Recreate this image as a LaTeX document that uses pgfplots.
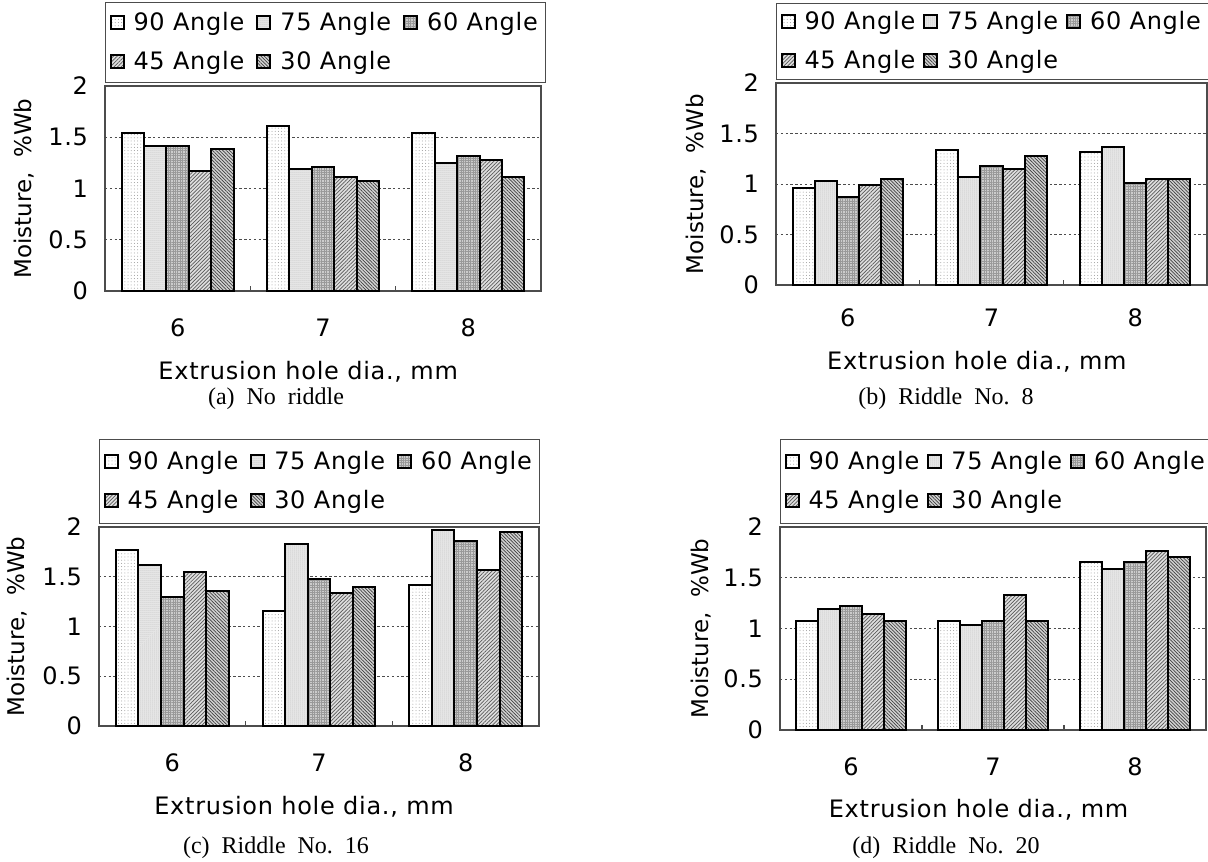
\documentclass[border=0pt]{standalone}
\usepackage{fontspec}
\setmainfont{Liberation Serif}
\newfontfamily\sff[LetterSpace=3]{DejaVu Sans}
\newfontfamily\sffn{DejaVu Sans}
\usepackage{pgfplots}
\pgfplotsset{compat=1.18}
\usetikzlibrary{patterns.meta}
\newcommand{\lab}{\sff\fontsize{12pt}{14pt}\selectfont}
\newcommand{\ylab}{\sffn\fontsize{11.5pt}{14pt}\selectfont}
\definecolor{axgray}{gray}{0.3}
\pgfplotsset{
  s90/.style={draw=black, line width=1pt, fill=white, postaction={pattern={Dots[distance=1.6pt,radius=0.25pt]}, pattern color=gray!80}},
  s75/.style={draw=black, line width=1pt, fill=gray!15, postaction={pattern={Dots[distance=1pt,radius=0.25pt]}, pattern color=gray!75}},
  s60/.style={draw=black, line width=1pt, fill=gray!40, postaction={pattern={Hatch[distance=1.2pt,line width=0.25pt]}, pattern color=gray!80}},
  s45/.style={draw=black, line width=1pt, fill=gray!25, postaction={pattern={Lines[angle=45,distance=1.3pt,line width=0.35pt]}, pattern color=gray!70!black}},
  s30/.style={draw=black, line width=1pt, fill=gray!35, postaction={pattern={Lines[angle=-45,distance=1.2pt,line width=0.35pt]}, pattern color=gray!50!black}},
  panel/.style={
    scale only axis, anchor=south west,
    ybar=0pt, bar width=0.154,
    xmin=0.5, xmax=3.5, ymin=0, ymax=2,
    xtick={1,2,3}, xticklabels={6,7,8},
    minor xtick={1.5,2.5},
    ytick={0,0.5,1,1.5,2}, yticklabels={0,0.5,1,1.5,2},
    major tick length=0pt, minor tick length=2.5pt,
    tick align=inside, xtick pos=bottom, ytick pos=left,
    ymajorgrids, major grid style={dash pattern=on 1.2pt off 1.2pt, axgray, line width=0.45pt},
    axis line style={axgray, line width=0.6pt},
    tick style={axgray, line width=0.6pt},
    tick label style={font=\lab},
    /pgf/number format/assume math mode=true,
    yticklabel style={xshift=-5pt},
    xlabel={Extrusion hole dia., mm},
    ylabel={Moisture,\ \ \%Wb},
    xlabel style={font=\lab},
    ylabel style={font=\ylab, at={(axis description cs:-0.186,0.5)}, anchor=center, rotate=0},
    legend columns=3,
    legend cell align=left,
    legend image code/.code={\draw[#1] (0pt,-3.25pt) rectangle (6.5pt,3.25pt);},
    legend style={at={(0,1)}, anchor=south west, yshift=1.5pt, draw=gray!60!black, line width=0.5pt,
      font=\lab, row sep=5pt, inner xsep=2pt, inner ysep=4pt,
      /tikz/every odd column/.append style={column sep=2.5pt},
      /tikz/every even column/.append style={column sep=4pt}},
  }
}
\begin{document}
\begin{tikzpicture}
\path[use as bounding box] (0,0) rectangle (604pt,-430.5pt);
% (a)
\begin{axis}[panel, at={(52.5pt,-145.5pt)}, width=218pt, height=102.5pt,
  xticklabel style={anchor=base, yshift=-22.75pt},
  xlabel style={at={(axis description cs:0.466,0)}, anchor=center, yshift=-40.5pt},
  legend style={inner ysep=3pt}]
\addplot[s90] coordinates {(1,1.545) (2,1.61) (3,1.545)};
\addplot[s75] coordinates {(1,1.41) (2,1.19) (3,1.25)};
\addplot[s60] coordinates {(1,1.41) (2,1.21) (3,1.32)};
\addplot[s45] coordinates {(1,1.17) (2,1.11) (3,1.28)};
\addplot[s30] coordinates {(1,1.39) (2,1.075) (3,1.11)};
\legend{90 Angle,75 Angle,60 Angle,45 Angle,30 Angle}
\end{axis}
% (b)
\begin{axis}[panel, at={(388pt,-142.5pt)}, width=215.5pt, height=101pt,
  xticklabel style={anchor=base, yshift=-20.75pt},
  xlabel style={at={(axis description cs:0.466,0)}, anchor=center, yshift=-38.5pt},
  legend style={inner ysep=2pt, /tikz/every even column/.append style={column sep=2pt}}]
\addplot[s90] coordinates {(1,0.96) (2,1.34) (3,1.32)};
\addplot[s75] coordinates {(1,1.03) (2,1.07) (3,1.37)};
\addplot[s60] coordinates {(1,0.875) (2,1.18) (3,1.01)};
\addplot[s45] coordinates {(1,0.99) (2,1.145) (3,1.05)};
\addplot[s30] coordinates {(1,1.05) (2,1.28) (3,1.05)};
\legend{90 Angle,75 Angle,60 Angle,45 Angle,30 Angle}
\end{axis}
% (c)
\begin{axis}[panel, at={(49.5pt,-363pt)}, width=220pt, height=99.5pt,
  xticklabel style={anchor=base, yshift=-22.75pt},
  xlabel style={at={(axis description cs:0.466,0)}, anchor=center, yshift=-40.5pt}]
\addplot[s90] coordinates {(1,1.765) (2,1.16) (3,1.42)};
\addplot[s75] coordinates {(1,1.62) (2,1.83) (3,1.97)};
\addplot[s60] coordinates {(1,1.30) (2,1.48) (3,1.855)};
\addplot[s45] coordinates {(1,1.545) (2,1.34) (3,1.565)};
\addplot[s30] coordinates {(1,1.357) (2,1.40) (3,1.95)};
\legend{90 Angle,75 Angle,60 Angle,45 Angle,30 Angle}
\end{axis}
% (d)
\begin{axis}[panel, at={(390pt,-365pt)}, width=213pt, height=101.5pt,
  xticklabel style={anchor=base, yshift=-22.75pt},
  xlabel style={at={(axis description cs:0.466,0)}, anchor=center, yshift=-40pt},
  legend style={/tikz/every even column/.append style={column sep=2pt}}]
\addplot[s90] coordinates {(1,1.075) (2,1.075) (3,1.66)};
\addplot[s75] coordinates {(1,1.19) (2,1.03) (3,1.59)};
\addplot[s60] coordinates {(1,1.22) (2,1.075) (3,1.66)};
\addplot[s45] coordinates {(1,1.145) (2,1.33) (3,1.76)};
\addplot[s30] coordinates {(1,1.075) (2,1.075) (3,1.70)};
\legend{90 Angle,75 Angle,60 Angle,45 Angle,30 Angle}
\end{axis}
\node[font=\fontsize{12pt}{14pt}\selectfont] at (138pt,-199.5pt) {(a)\ \ No\ \ riddle};
\node[font=\fontsize{12pt}{14pt}\selectfont] at (473pt,-199.5pt) {(b)\ \ Riddle\ \ No.\ \ 8};
\node[font=\fontsize{12pt}{14pt}\selectfont] at (138pt,-424pt) {(c)\ \ Riddle\ \ No.\ \ 16};
\node[font=\fontsize{12pt}{14pt}\selectfont] at (473pt,-424pt) {(d)\ \ Riddle\ \ No.\ \ 20};
\end{tikzpicture}
\end{document}
